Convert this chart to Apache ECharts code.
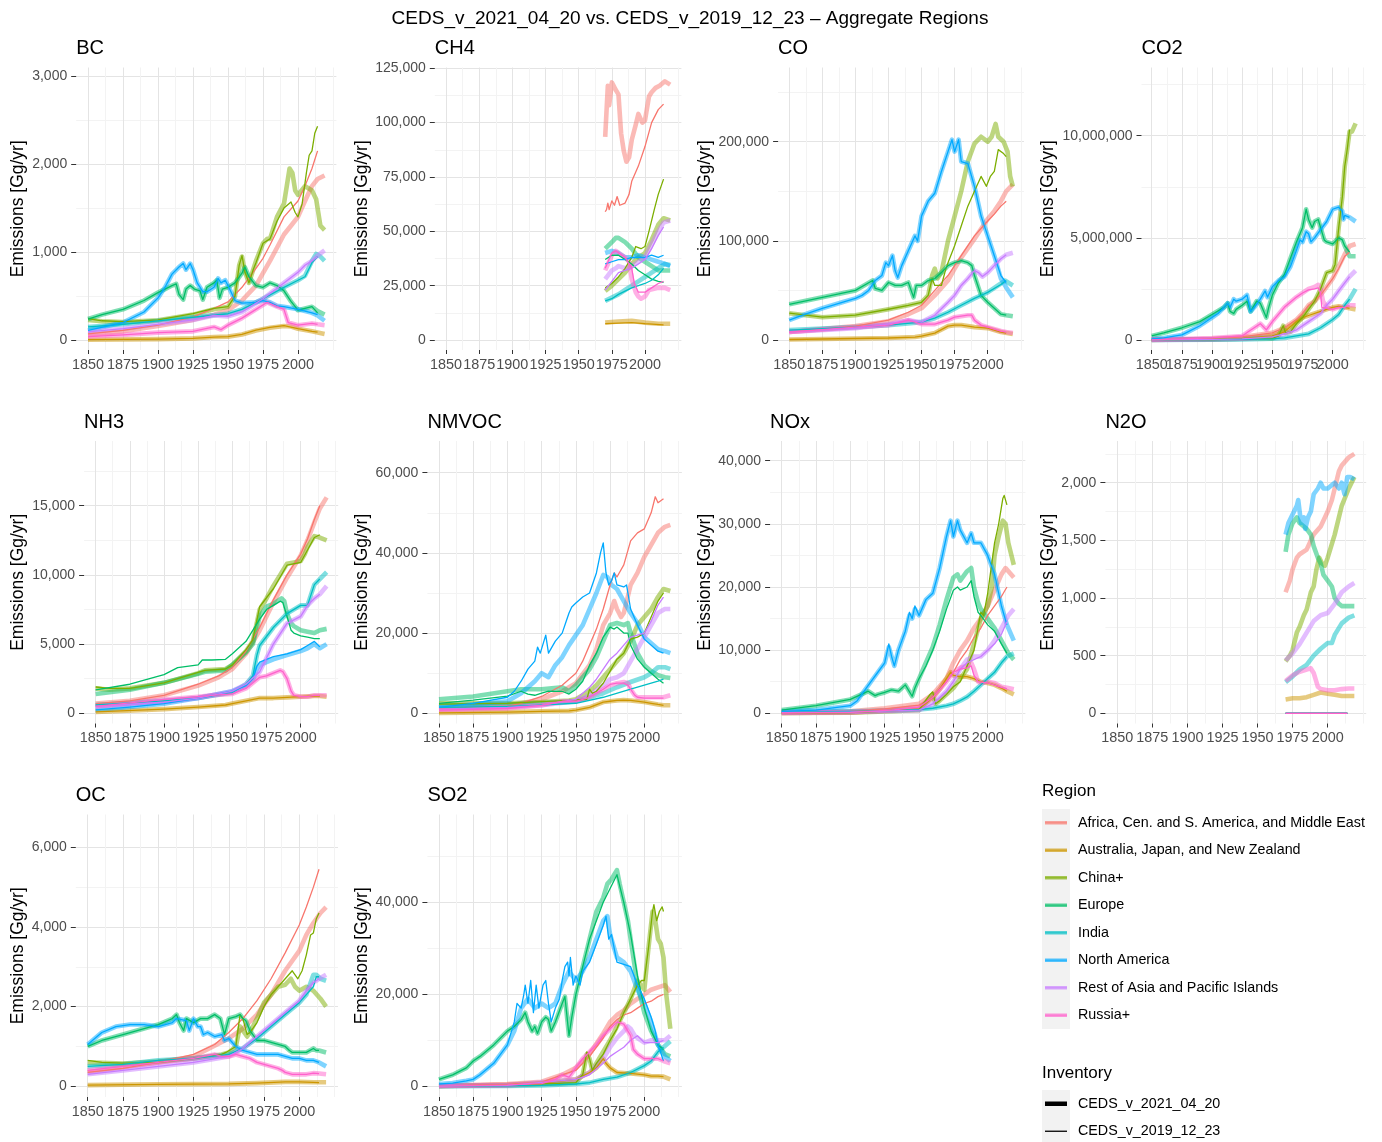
<!DOCTYPE html>
<html><head><meta charset="utf-8">
<script src="https://cdn.jsdelivr.net/npm/echarts@6/dist/echarts.min.js"></script>
<style>html,body{margin:0;padding:0;background:#fff}#c{width:1382px;height:1142px}</style>
</head><body><div id="c"></div>
<script>
const REGIONS = ['Africa, Cen. and S. America, and Middle East','Australia, Japan, and New Zealand','China+','Europe','India','North America','Rest of Asia and Pacific Islands','Russia+'];
const COLORS = ['#F8766D','#CD9600','#7CAE00','#00BE67','#00BFC4','#00A9FF','#C77CFF','#FF61CC'];
const INVENTORIES = ['CEDS_v_2021_04_20','CEDS_v_2019_12_23'];
const YEAR_TICKS = [1850,1875,1900,1925,1950,1975,2000];
const YEAR_MINOR = [1862.5,1887.5,1912.5,1937.5,1962.5,1987.5,2012.5,2025];
const XLIM = [1841.55, 2027.45];

const BC_TICKS=[0,1000,2000,3000], BC_MINOR=[500,1500,2500];
const CH4_TICKS=[0,25000,50000,75000,100000,125000], CH4_MINOR=[12500,37500,62500,87500,112500];
const CO_TICKS=[0,100000,200000], CO_MINOR=[50000,150000,250000];
const CO2_TICKS=[0,5000000,10000000], CO2_MINOR=[2500000,7500000,12500000];
const NH3_TICKS=[0,5000,10000,15000], NH3_MINOR=[2500,7500,12500,17500];
const NMVOC_TICKS=[0,20000,40000,60000], NMVOC_MINOR=[10000,30000,50000];
const NOX_TICKS=[0,10000,20000,30000,40000], NOX_MINOR=[5000,15000,25000,35000];
const N2O_TICKS=[0,500,1000,1500,2000], N2O_MINOR=[250,750,1250,1750,2250];
const OC_TICKS=[0,2000,4000,6000], OC_MINOR=[1000,3000,5000];
const SO2_TICKS=[0,20000,40000], SO2_MINOR=[10000,30000,50000];

// ---- BC ----
const BC_2021 = [
 [[1850,60],[1875,100],[1900,160],[1925,230],[1940,290],[1950,340],[1960,450],[1970,620],[1975,760],[1980,900],[1985,1050],[1990,1200],[1995,1300],[2000,1400],[2005,1580],[2010,1750],[2014,1830],[2019,1870]],
 [[1850,5],[1900,12],[1925,20],[1940,35],[1950,40],[1960,65],[1970,110],[1980,140],[1990,160],[1995,155],[2000,130],[2010,100],[2019,70]],
 [[1850,230],[1860,215],[1875,205],[1900,225],[1925,290],[1940,350],[1950,380],[1955,500],[1958,850],[1960,950],[1962,780],[1965,650],[1968,800],[1970,900],[1975,1100],[1978,1150],[1980,1150],[1985,1400],[1990,1550],[1992,1750],[1994,1950],[1996,1900],[1998,1700],[2000,1650],[2005,1750],[2010,1700],[2013,1600],[2016,1300],[2019,1250]],
 [[1850,240],[1860,290],[1875,350],[1890,450],[1900,540],[1905,580],[1910,620],[1913,640],[1915,520],[1918,460],[1920,580],[1923,620],[1926,580],[1930,560],[1932,460],[1935,600],[1940,650],[1942,680],[1944,480],[1946,580],[1950,600],[1955,650],[1960,760],[1962,830],[1965,720],[1970,620],[1975,600],[1980,650],[1985,620],[1990,560],[1995,440],[2000,340],[2005,360],[2010,380],[2014,330],[2019,290]],
 [[1850,150],[1875,180],[1900,220],[1925,260],[1950,300],[1960,350],[1975,470],[1990,600],[2000,680],[2005,730],[2010,900],[2013,980],[2016,950],[2019,900]],
 [[1850,110],[1875,200],[1890,320],[1900,480],[1905,600],[1910,750],[1915,830],[1918,870],[1920,800],[1923,870],[1925,800],[1928,650],[1932,550],[1935,550],[1940,600],[1943,700],[1945,650],[1948,680],[1950,620],[1955,450],[1960,420],[1970,430],[1975,450],[1980,430],[1985,390],[1990,380],[2000,350],[2010,310],[2014,280],[2019,220]],
 [[1850,95],[1875,130],[1900,180],[1925,230],[1940,280],[1950,270],[1960,320],[1975,470],[1990,650],[2000,770],[2005,850],[2010,900],[2014,960],[2019,1020]],
 [[1850,40],[1875,60],[1900,85],[1925,100],[1940,150],[1945,120],[1950,170],[1960,250],[1970,350],[1978,430],[1985,380],[1990,350],[1993,200],[2000,170],[2010,190],[2014,180],[2019,170]]
];
const BC_2019 = [
 [[1850,70],[1875,110],[1900,170],[1925,265],[1940,360],[1950,435],[1960,600],[1970,815],[1975,930],[1980,1080],[1990,1400],[2000,1580],[2005,1750],[2010,1950],[2014,2150]],
 [[1850,5],[1900,12],[1925,20],[1940,35],[1950,40],[1960,65],[1970,115],[1980,145],[1990,165],[2000,130],[2010,100],[2014,90]],
 [[1850,245],[1860,220],[1875,210],[1900,230],[1925,300],[1940,360],[1950,380],[1955,500],[1958,850],[1960,960],[1962,780],[1965,650],[1968,800],[1970,880],[1975,1100],[1980,1150],[1985,1350],[1990,1500],[1995,1570],[1998,1450],[2000,1400],[2003,1550],[2006,1900],[2008,2100],[2010,2150],[2012,2350],[2014,2430]],
 [[1850,240],[1860,290],[1875,350],[1890,450],[1900,540],[1905,580],[1910,620],[1913,640],[1915,520],[1918,460],[1920,580],[1923,620],[1926,580],[1930,560],[1932,460],[1935,600],[1940,650],[1942,680],[1944,480],[1946,580],[1950,600],[1955,650],[1960,760],[1962,830],[1965,720],[1970,620],[1975,600],[1980,650],[1985,620],[1990,560],[1995,440],[2000,340],[2005,360],[2010,380],[2014,310]],
 [[1850,150],[1875,180],[1900,220],[1925,260],[1950,300],[1960,350],[1975,470],[1990,600],[2000,680],[2005,720],[2010,880],[2014,950]],
 [[1850,110],[1875,200],[1890,320],[1900,480],[1905,600],[1910,750],[1915,830],[1918,870],[1920,800],[1923,870],[1925,800],[1928,650],[1932,550],[1935,550],[1940,600],[1943,700],[1945,650],[1948,680],[1950,620],[1955,450],[1960,420],[1970,430],[1975,450],[1980,430],[1985,390],[1990,380],[2000,350],[2010,310],[2014,290]],
 [[1850,95],[1875,130],[1900,180],[1925,230],[1940,280],[1950,270],[1960,320],[1975,470],[1990,650],[2000,770],[2005,850],[2010,900],[2014,950]],
 [[1850,40],[1875,60],[1900,85],[1925,100],[1940,150],[1945,120],[1950,170],[1960,250],[1970,350],[1978,430],[1985,380],[1990,350],[1993,200],[2000,170],[2010,190],[2014,180]]
];

// ---- CH4 ----
const CH4_2021 = [
 [[1970,93500],[1971,93500],[1972,117000],[1973,108000],[1975,118500],[1978,115000],[1980,113000],[1982,95000],[1984,87000],[1986,82000],[1988,84000],[1990,92000],[1993,99000],[1995,104000],[1998,100000],[2000,101000],[2003,112000],[2005,114000],[2008,116000],[2011,117000],[2015,119000],[2019,117500]],
 [[1970,8000],[1980,8500],[1990,8800],[2000,8000],[2010,7500],[2019,7500]],
 [[1970,22500],[1975,25000],[1980,28000],[1985,31000],[1990,35000],[1995,38000],[2000,40000],[2005,46000],[2010,53000],[2014,56000],[2019,55000]],
 [[1970,42000],[1975,45000],[1978,47000],[1980,47000],[1985,45000],[1990,42000],[1995,38000],[2000,36000],[2005,34000],[2010,32000],[2014,32000],[2019,32000]],
 [[1970,18000],[1975,19500],[1980,21000],[1985,23000],[1990,25000],[1995,27000],[2000,29000],[2005,31000],[2010,33000],[2015,35000],[2019,34500]],
 [[1970,40000],[1975,41000],[1980,40000],[1985,38000],[1990,38000],[1995,39000],[2000,38000],[2005,37000],[2010,36000],[2015,35000],[2019,34000]],
 [[1970,28000],[1975,32000],[1978,33000],[1980,34000],[1985,33000],[1990,34000],[1995,36000],[2000,38000],[2005,44000],[2010,50000],[2014,54000],[2019,55000]],
 [[1970,32000],[1975,39000],[1978,41000],[1985,38000],[1988,36000],[1990,28000],[1993,22000],[1995,20000],[1997,19000],[2000,20000],[2003,23000],[2010,24000],[2015,24000],[2019,23000]]
];
const CH4_2019 = [
 [[1970,59000],[1971,60000],[1972,63000],[1973,60000],[1975,64000],[1977,62000],[1979,66000],[1981,62000],[1985,63000],[1988,67000],[1990,73000],[1995,80000],[2000,89000],[2005,100000],[2010,106000],[2014,108500]],
 [[1970,7500],[1990,8000],[2000,7500],[2014,7000]],
 [[1970,24000],[1975,26000],[1980,29000],[1985,33000],[1990,38000],[1993,43000],[1997,42000],[2000,43000],[2003,50000],[2007,60000],[2010,67000],[2014,74000]],
 [[1970,37000],[1975,39000],[1980,39000],[1985,37000],[1990,35000],[1995,32000],[2000,30000],[2005,28000],[2010,27000],[2014,26500]],
 [[1970,18000],[1975,19000],[1980,21000],[1985,22500],[1990,24000],[1995,25000],[2000,26000],[2005,27500],[2010,30000],[2014,33000]],
 [[1970,35000],[1975,36000],[1980,37000],[1985,37000],[1990,38000],[1995,38000],[2000,38000],[2005,39000],[2010,38000],[2014,39000]],
 [[1970,23000],[1975,27000],[1980,31000],[1985,32000],[1990,33000],[1995,35000],[2000,37000],[2005,42000],[2010,48000],[2014,52000]],
 [[1970,33000],[1975,40000],[1978,41000],[1985,38000],[1990,33000],[1992,26000],[1995,22000],[2000,22000],[2005,24000],[2010,26000],[2014,27000]]
];

// ---- CO ----
const CO_2021 = [
 [[1850,8000],[1875,11000],[1900,14000],[1925,19000],[1940,26000],[1950,32000],[1960,45000],[1970,60000],[1975,72000],[1980,83000],[1990,102000],[2000,122000],[2005,130000],[2010,140000],[2014,150000],[2019,157000]],
 [[1850,500],[1900,1500],[1925,2000],[1945,3000],[1950,4000],[1960,7000],[1970,14000],[1975,15000],[1980,15000],[1990,13000],[2000,12000],[2010,8000],[2019,6000]],
 [[1850,27000],[1875,23000],[1900,25000],[1925,31000],[1940,35000],[1950,38000],[1955,45000],[1958,65000],[1960,72000],[1962,62000],[1965,68000],[1970,100000],[1975,125000],[1980,150000],[1985,180000],[1990,198000],[1995,205000],[2000,200000],[2003,205000],[2006,218000],[2008,205000],[2012,200000],[2015,190000],[2017,165000],[2019,155000]],
 [[1850,36000],[1875,43000],[1900,50000],[1913,60000],[1915,52000],[1920,50000],[1925,58000],[1930,55000],[1935,55000],[1940,58000],[1944,43000],[1946,55000],[1950,55000],[1955,60000],[1960,62000],[1965,68000],[1970,75000],[1975,78000],[1980,80000],[1985,78000],[1988,75000],[1990,65000],[1995,45000],[2000,38000],[2005,32000],[2010,26000],[2014,25000],[2019,24000]],
 [[1850,10000],[1900,13000],[1925,15000],[1950,18000],[1960,22000],[1970,28000],[1980,35000],[1990,42000],[2000,48000],[2010,57000],[2013,60000],[2019,55000]],
 [[1850,20000],[1860,25000],[1875,32000],[1890,38000],[1900,42000],[1905,45000],[1910,50000],[1915,60000],[1920,65000],[1923,78000],[1925,75000],[1928,85000],[1930,70000],[1932,63000],[1935,75000],[1940,90000],[1945,105000],[1947,100000],[1950,125000],[1955,140000],[1960,148000],[1965,170000],[1970,190000],[1973,202000],[1975,190000],[1978,202000],[1980,180000],[1985,178000],[1990,155000],[1995,125000],[2000,105000],[2005,85000],[2010,62000],[2014,53000],[2019,43000]],
 [[1850,8000],[1900,12000],[1925,16000],[1940,20000],[1950,18000],[1960,25000],[1970,38000],[1975,45000],[1980,55000],[1985,62000],[1990,70000],[1993,68000],[1996,64000],[2000,68000],[2005,75000],[2010,82000],[2014,86000],[2019,88000]],
 [[1850,8000],[1900,13000],[1925,15000],[1940,20000],[1950,16000],[1960,16000],[1970,20000],[1975,23000],[1980,24000],[1985,25000],[1988,25000],[1990,20000],[1995,15000],[2000,13000],[2010,9000],[2014,8000],[2019,7000]]
];
const CO_2019 = [
 [[1850,8000],[1875,11000],[1900,14000],[1925,20000],[1940,28000],[1950,35000],[1960,50000],[1970,65000],[1975,75000],[1980,85000],[1990,105000],[2000,120000],[2005,127000],[2010,135000],[2014,140000]],
 [[1850,500],[1900,1500],[1925,2000],[1945,3000],[1950,4000],[1960,7000],[1970,14000],[1975,15000],[1980,15000],[1990,13000],[2000,12000],[2010,8000],[2014,7000]],
 [[1850,27000],[1875,23000],[1900,25000],[1925,31000],[1940,35000],[1950,38000],[1955,45000],[1958,62000],[1960,55000],[1965,55000],[1968,70000],[1970,78000],[1975,95000],[1980,115000],[1985,135000],[1990,150000],[1995,165000],[1999,155000],[2002,165000],[2005,170000],[2008,192000],[2012,188000],[2014,185000]],
 [[1850,36000],[1875,43000],[1900,50000],[1913,60000],[1915,52000],[1920,50000],[1925,58000],[1930,55000],[1935,55000],[1940,58000],[1944,43000],[1946,55000],[1950,55000],[1955,60000],[1960,62000],[1965,68000],[1970,75000],[1975,78000],[1980,80000],[1985,78000],[1988,75000],[1990,65000],[1995,45000],[2000,38000],[2005,32000],[2010,26000],[2014,25000]],
 [[1850,10000],[1900,13000],[1925,15000],[1950,18000],[1960,22000],[1970,28000],[1980,35000],[1990,42000],[2000,48000],[2010,56000],[2014,60000]],
 [[1850,20000],[1860,25000],[1875,32000],[1890,38000],[1900,42000],[1905,45000],[1910,50000],[1915,60000],[1920,65000],[1923,78000],[1925,75000],[1928,85000],[1930,70000],[1932,63000],[1935,75000],[1940,90000],[1945,105000],[1947,100000],[1950,125000],[1955,140000],[1960,148000],[1965,170000],[1970,190000],[1973,202000],[1975,190000],[1978,202000],[1980,180000],[1985,178000],[1990,155000],[1995,125000],[2000,105000],[2005,85000],[2010,65000],[2014,58000]],
 [[1850,8000],[1900,12000],[1925,16000],[1940,20000],[1950,18000],[1960,25000],[1970,38000],[1975,45000],[1980,55000],[1985,62000],[1990,70000],[1993,68000],[1996,64000],[2000,68000],[2005,75000],[2010,82000],[2014,86000]],
 [[1850,8000],[1900,13000],[1925,15000],[1940,20000],[1950,16000],[1960,16000],[1970,20000],[1975,23000],[1980,24000],[1985,25000],[1988,25000],[1990,20000],[1995,15000],[2000,13000],[2010,9000],[2014,8000]]
];

// ---- CO2 ----
const CO2_2021 = [
 [[1850,10000],[1900,50000],[1925,150000],[1950,350000],[1960,600000],[1970,1000000],[1975,1300000],[1980,1700000],[1985,1900000],[1990,2200000],[1995,2600000],[2000,3000000],[2005,3600000],[2010,4200000],[2014,4600000],[2019,4700000]],
 [[1850,5000],[1900,50000],[1925,80000],[1950,200000],[1960,400000],[1970,900000],[1975,1100000],[1980,1200000],[1990,1400000],[2000,1600000],[2005,1650000],[2010,1600000],[2014,1550000],[2019,1500000]],
 [[1850,10000],[1900,20000],[1925,60000],[1940,100000],[1950,80000],[1955,200000],[1959,700000],[1961,350000],[1965,400000],[1970,800000],[1975,1100000],[1980,1500000],[1985,1900000],[1990,2500000],[1995,3300000],[2000,3400000],[2002,3700000],[2005,5500000],[2008,7000000],[2010,8500000],[2012,9300000],[2014,10200000],[2016,10200000],[2019,10600000]],
 [[1850,200000],[1860,350000],[1875,600000],[1890,900000],[1900,1250000],[1910,1600000],[1913,1800000],[1915,1400000],[1918,1300000],[1920,1500000],[1925,1700000],[1929,1900000],[1932,1400000],[1937,1900000],[1940,1800000],[1945,1100000],[1947,1600000],[1950,2200000],[1955,2800000],[1960,3200000],[1965,4000000],[1970,4800000],[1975,5500000],[1978,6400000],[1980,5900000],[1983,5500000],[1985,5800000],[1988,5900000],[1990,5500000],[1993,4900000],[1995,4800000],[2000,4700000],[2005,5000000],[2008,4900000],[2010,4600000],[2014,4100000],[2019,4100000]],
 [[1850,2000],[1900,20000],[1925,30000],[1950,60000],[1960,100000],[1970,200000],[1980,300000],[1990,600000],[2000,1000000],[2005,1250000],[2010,1700000],[2014,2000000],[2019,2500000]],
 [[1850,50000],[1860,100000],[1870,200000],[1875,250000],[1880,400000],[1890,700000],[1900,1100000],[1905,1300000],[1910,1600000],[1913,1800000],[1915,1600000],[1918,2000000],[1920,1900000],[1925,2000000],[1929,2200000],[1932,1400000],[1935,1600000],[1940,2000000],[1944,2400000],[1946,2100000],[1950,2600000],[1955,2900000],[1960,3100000],[1965,3600000],[1970,4400000],[1973,4900000],[1975,4800000],[1978,5300000],[1980,5200000],[1982,4800000],[1985,5000000],[1990,5400000],[1995,5800000],[2000,6400000],[2005,6500000],[2008,6300000],[2009,5900000],[2010,6100000],[2014,6000000],[2019,5800000]],
 [[1850,5000],[1900,30000],[1925,60000],[1950,150000],[1960,300000],[1970,500000],[1975,700000],[1980,900000],[1985,1100000],[1990,1300000],[1995,1700000],[2000,2000000],[2005,2400000],[2010,2800000],[2014,3100000],[2019,3400000]],
 [[1850,10000],[1900,100000],[1913,150000],[1925,200000],[1930,400000],[1940,800000],[1945,500000],[1950,900000],[1960,1600000],[1970,2100000],[1975,2300000],[1980,2500000],[1985,2600000],[1988,2700000],[1990,2500000],[1992,1900000],[1995,1600000],[2000,1500000],[2005,1600000],[2010,1600000],[2014,1700000],[2019,1700000]]
];
const CO2_2019 = [
 [[1850,10000],[1900,50000],[1925,150000],[1950,350000],[1960,600000],[1970,1000000],[1975,1300000],[1980,1700000],[1985,1900000],[1990,2200000],[1995,2600000],[2000,3000000],[2005,3500000],[2010,4100000],[2014,4300000]],
 [[1850,5000],[1900,50000],[1925,80000],[1950,200000],[1960,400000],[1970,900000],[1975,1100000],[1980,1200000],[1990,1400000],[2000,1600000],[2005,1650000],[2010,1600000],[2014,1550000]],
 [[1850,10000],[1900,20000],[1925,60000],[1940,100000],[1950,80000],[1955,200000],[1959,700000],[1961,350000],[1965,400000],[1970,800000],[1975,1100000],[1980,1500000],[1985,1900000],[1990,2500000],[1995,3300000],[2000,3400000],[2002,3700000],[2005,5500000],[2008,7000000],[2010,8500000],[2012,9300000],[2014,10300000]],
 [[1850,200000],[1860,350000],[1875,600000],[1890,900000],[1900,1250000],[1910,1600000],[1913,1800000],[1915,1400000],[1918,1300000],[1920,1500000],[1925,1700000],[1929,1900000],[1932,1400000],[1937,1900000],[1940,1800000],[1945,1100000],[1947,1600000],[1950,2200000],[1955,2800000],[1960,3200000],[1965,4000000],[1970,4800000],[1975,5500000],[1978,6400000],[1980,5900000],[1983,5500000],[1985,5800000],[1988,5900000],[1990,5500000],[1993,4900000],[1995,4800000],[2000,4700000],[2005,5000000],[2008,4900000],[2010,4600000],[2014,4300000]],
 [[1850,2000],[1900,20000],[1925,30000],[1950,60000],[1960,100000],[1970,200000],[1980,300000],[1990,600000],[2000,1000000],[2005,1250000],[2010,1700000],[2014,2000000]],
 [[1850,50000],[1860,100000],[1870,200000],[1875,250000],[1880,400000],[1890,700000],[1900,1100000],[1905,1300000],[1910,1600000],[1913,1800000],[1915,1600000],[1918,2000000],[1920,1900000],[1925,2000000],[1929,2200000],[1932,1400000],[1935,1600000],[1940,2000000],[1944,2400000],[1946,2100000],[1950,2600000],[1955,2900000],[1960,3100000],[1965,3600000],[1970,4400000],[1973,4900000],[1975,4800000],[1978,5300000],[1980,5200000],[1982,4800000],[1985,5000000],[1990,5400000],[1995,5800000],[2000,6400000],[2005,6500000],[2008,6300000],[2009,5900000],[2010,6100000],[2014,6000000]],
 [[1850,5000],[1900,30000],[1925,60000],[1950,150000],[1960,300000],[1970,500000],[1975,700000],[1980,900000],[1985,1100000],[1990,1300000],[1995,1700000],[2000,2000000],[2005,2400000],[2010,2800000],[2014,3100000]],
 [[1850,10000],[1900,100000],[1913,150000],[1925,200000],[1930,400000],[1940,800000],[1945,500000],[1950,900000],[1960,1600000],[1970,2100000],[1975,2300000],[1980,2450000],[1985,2500000],[1988,2550000],[1990,2300000],[1991,1600000],[1995,1550000],[2000,1500000],[2005,1600000],[2010,1600000],[2014,1700000]]
];

// ---- NH3 ----
const NH3_2021 = [
 [[1850,700],[1875,900],[1900,1300],[1925,2000],[1940,2600],[1950,3200],[1960,4300],[1970,6000],[1980,8000],[1990,9800],[2000,11400],[2005,12500],[2010,13800],[2014,14800],[2019,15600]],
 [[1850,100],[1900,300],[1925,450],[1945,600],[1950,700],[1960,900],[1970,1100],[1980,1100],[1990,1150],[2000,1200],[2010,1250],[2014,1250],[2019,1200]],
 [[1850,1800],[1860,1700],[1875,1800],[1900,2200],[1925,2900],[1930,3100],[1945,3200],[1950,3500],[1960,4500],[1965,5200],[1970,7500],[1975,8300],[1980,9200],[1985,10000],[1990,10800],[1995,10900],[2000,11000],[2003,11500],[2005,12000],[2010,12800],[2014,12700],[2019,12500]],
 [[1850,1400],[1875,1700],[1900,2200],[1925,2850],[1930,3000],[1945,3100],[1950,3500],[1960,4400],[1965,5000],[1970,7000],[1975,7700],[1980,7900],[1986,8300],[1988,8100],[1990,7200],[1993,6500],[1995,6300],[2000,6000],[2005,5900],[2010,5800],[2014,6000],[2019,6100]],
 [[1850,600],[1900,900],[1925,1100],[1950,1500],[1960,2100],[1965,2700],[1968,4200],[1970,4900],[1980,6200],[1990,7200],[2000,7800],[2005,7800],[2010,9300],[2014,9700],[2019,10200]],
 [[1850,250],[1875,450],[1900,700],[1925,1100],[1950,1600],[1960,2000],[1965,2400],[1968,3200],[1970,3500],[1975,3700],[1980,3900],[1990,4200],[2000,4500],[2005,4700],[2010,5000],[2014,4700],[2019,5000]],
 [[1850,500],[1900,800],[1925,1100],[1950,1600],[1960,2100],[1970,3000],[1975,4000],[1980,5000],[1990,6500],[2000,7000],[2005,7800],[2010,8300],[2014,8600],[2019,9200]],
 [[1850,500],[1900,1000],[1925,1200],[1935,1300],[1950,1400],[1960,1800],[1970,2600],[1975,2700],[1980,2900],[1985,3100],[1987,3000],[1990,2500],[1993,1600],[1995,1300],[2000,1200],[2005,1200],[2010,1300],[2014,1300],[2019,1300]]
];
const NH3_2019 = [
 [[1850,700],[1875,900],[1900,1300],[1925,2100],[1940,2700],[1950,3300],[1960,4500],[1970,6200],[1980,8200],[1990,10000],[2000,11500],[2005,12600],[2010,14000],[2014,15000]],
 [[1850,100],[1900,300],[1925,450],[1945,600],[1950,700],[1960,900],[1970,1100],[1980,1100],[1990,1150],[2000,1200],[2010,1250],[2014,1250]],
 [[1850,1900],[1860,1800],[1875,1800],[1900,2200],[1925,2950],[1930,3100],[1945,3200],[1950,3500],[1960,4600],[1965,5300],[1970,7700],[1980,9000],[1990,10700],[2000,10900],[2005,11800],[2010,12700],[2014,12900]],
 [[1850,1700],[1875,2100],[1900,2800],[1910,3300],[1925,3500],[1928,3850],[1935,3850],[1945,3900],[1950,4300],[1960,5200],[1970,6800],[1975,7500],[1980,7800],[1985,8100],[1987,8000],[1990,7000],[1993,6000],[1995,5800],[2000,5600],[2005,5500],[2010,5400],[2014,5400]],
 [[1850,600],[1900,900],[1925,1100],[1950,1500],[1960,2100],[1965,2700],[1968,4200],[1970,4900],[1980,6200],[1990,7200],[2000,7800],[2005,7800],[2010,9300],[2014,9700]],
 [[1850,250],[1875,450],[1900,700],[1925,1100],[1950,1600],[1960,2000],[1965,2500],[1968,3400],[1970,3700],[1975,3900],[1980,4100],[1990,4300],[2000,4600],[2005,4900],[2010,5200],[2012,5000],[2014,4800]],
 [[1850,500],[1900,800],[1925,1100],[1950,1600],[1960,2100],[1970,3000],[1975,4000],[1980,5000],[1990,6500],[2000,7000],[2005,7800],[2010,8300],[2014,8600]],
 [[1850,500],[1900,1000],[1925,1200],[1935,1300],[1950,1400],[1960,1800],[1970,2600],[1975,2700],[1980,2900],[1985,3100],[1987,3000],[1990,2500],[1993,1600],[1995,1300],[2000,1200],[2005,1200],[2010,1300],[2014,1300]]
];

// ---- NMVOC ----
const NMVOC_2021 = [
 [[1850,1300],[1900,1800],[1925,3500],[1940,5500],[1950,7500],[1960,12000],[1965,16000],[1970,22000],[1975,25000],[1978,28000],[1980,26000],[1983,24000],[1985,25000],[1990,32000],[1995,35000],[2000,39000],[2005,42000],[2010,45000],[2015,46500],[2019,47000]],
 [[1850,100],[1900,300],[1925,500],[1945,600],[1950,800],[1960,1500],[1970,2800],[1975,3000],[1980,3200],[1985,3300],[1990,3200],[2000,2800],[2005,2500],[2010,2200],[2014,2000],[2019,2000]],
 [[1850,2500],[1900,2500],[1925,2800],[1945,3200],[1950,3500],[1960,5500],[1965,7000],[1970,9000],[1975,11000],[1980,13000],[1985,15000],[1990,18000],[1995,22000],[2000,24000],[2005,26000],[2010,29000],[2014,31000],[2019,30500]],
 [[1850,3500],[1875,4200],[1900,5500],[1910,6000],[1925,6000],[1940,6500],[1945,5500],[1950,7000],[1960,11000],[1965,14000],[1970,18000],[1975,22000],[1980,22500],[1985,22000],[1988,22500],[1990,20000],[1995,15000],[2000,12000],[2005,10500],[2010,9500],[2015,9000],[2019,8800]],
 [[1850,2000],[1900,2200],[1925,2500],[1950,3000],[1960,4000],[1970,5000],[1980,6500],[1990,7800],[2000,9000],[2005,10000],[2010,11500],[2015,11500],[2019,11000]],
 [[1850,1500],[1875,2200],[1900,3000],[1910,5000],[1920,8000],[1925,10000],[1930,9000],[1935,12000],[1940,14000],[1945,17000],[1950,19500],[1955,22000],[1960,26000],[1965,30000],[1970,34500],[1973,34000],[1976,32000],[1980,31000],[1985,28000],[1990,25000],[1995,22500],[2000,19000],[2005,17500],[2010,16000],[2015,15500],[2019,15000]],
 [[1850,1000],[1900,1500],[1925,2000],[1950,3000],[1960,4500],[1970,7000],[1975,8500],[1980,9000],[1985,10000],[1990,13000],[1995,16000],[2000,19000],[2005,22000],[2010,25000],[2015,26000],[2019,26000]],
 [[1850,800],[1900,1200],[1925,2000],[1940,3000],[1950,3000],[1960,4000],[1970,6000],[1975,7000],[1980,7500],[1985,7800],[1988,7500],[1990,6000],[1993,4500],[1995,4000],[2000,4000],[2010,4000],[2014,4000],[2019,4500]]
];
const NMVOC_2019 = [
 [[1850,1300],[1900,1800],[1910,2500],[1925,4200],[1940,7000],[1950,10000],[1955,13000],[1960,17000],[1965,21000],[1970,26000],[1975,32000],[1978,35000],[1980,34000],[1985,37000],[1990,43000],[1995,45000],[2000,46000],[2005,50000],[2008,54000],[2010,52500],[2014,53500]],
 [[1850,100],[1900,300],[1925,500],[1945,600],[1950,800],[1960,1500],[1970,2800],[1975,3000],[1980,3200],[1985,3300],[1990,3200],[2000,2800],[2005,2500],[2010,2200],[2014,2000]],
 [[1850,2300],[1900,2500],[1925,2900],[1945,3200],[1958,3500],[1960,6000],[1962,5000],[1965,5500],[1970,7500],[1975,10500],[1980,13500],[1985,15000],[1990,18500],[1995,19000],[2000,20000],[2005,24000],[2010,28000],[2014,30000]],
 [[1850,2500],[1875,3300],[1900,4300],[1910,5500],[1915,4800],[1920,4500],[1925,5000],[1930,5500],[1940,5500],[1945,4800],[1950,6000],[1955,8000],[1960,12000],[1965,15000],[1970,19000],[1975,21500],[1978,21000],[1980,21500],[1985,20000],[1988,20000],[1990,17000],[1995,13500],[2000,11500],[2005,10000],[2010,8500],[2014,7500]],
 [[1850,1500],[1900,1700],[1920,2000],[1950,2500],[1970,4000],[1990,6000],[2000,7000],[2010,8000],[2014,8500]],
 [[1850,1500],[1875,2500],[1900,4000],[1905,5500],[1910,8000],[1915,11000],[1920,13000],[1922,16500],[1924,15000],[1928,19500],[1930,15000],[1935,18000],[1940,20000],[1943,23000],[1945,25000],[1947,26500],[1950,27500],[1955,29000],[1960,30000],[1965,35000],[1968,40000],[1970,42500],[1972,35000],[1974,32000],[1976,33000],[1978,35000],[1980,32000],[1985,31500],[1987,32000],[1990,26000],[1995,22000],[2000,18500],[2005,17000],[2010,15500],[2014,15000]],
 [[1850,1000],[1900,1500],[1925,2000],[1950,3500],[1960,6500],[1965,8500],[1970,11000],[1975,13500],[1980,15000],[1985,17000],[1990,19000],[1995,19500],[2000,20000],[2005,23000],[2010,27000],[2014,29000]],
 [[1850,800],[1900,1200],[1925,2000],[1940,3000],[1950,3000],[1960,4000],[1970,6000],[1975,7200],[1980,7500],[1985,7500],[1988,7000],[1990,6000],[1993,4500],[1995,4000],[2000,3800],[2010,3800],[2014,3800]]
];

// ---- NOx ----
const NOX_2021 = [
 [[1850,100],[1900,300],[1925,800],[1950,1500],[1960,3000],[1970,5500],[1975,8000],[1980,10000],[1985,11500],[1990,13500],[1995,15000],[2000,17000],[2005,19500],[2010,22000],[2013,23000],[2019,21500]],
 [[1850,50],[1900,150],[1950,700],[1960,2500],[1965,3800],[1970,5500],[1973,6500],[1975,6000],[1980,5800],[1985,5800],[1990,5500],[1995,5000],[2000,4800],[2005,4500],[2010,4000],[2014,3500],[2019,3000]],
 [[1850,50],[1900,100],[1950,500],[1958,2500],[1960,3000],[1962,1500],[1965,2000],[1970,3000],[1975,4000],[1980,5500],[1985,7000],[1990,11000],[1995,15000],[2000,17000],[2003,20000],[2005,25000],[2008,28000],[2011,30500],[2013,30000],[2015,27000],[2019,23500]],
 [[1850,500],[1875,1200],[1900,2200],[1910,3200],[1913,3500],[1918,2800],[1920,3000],[1925,3300],[1930,3700],[1935,3500],[1940,4500],[1945,2700],[1947,4000],[1950,5500],[1955,8000],[1960,10500],[1965,14000],[1970,18000],[1975,21500],[1978,22000],[1980,21000],[1985,22500],[1988,23000],[1990,20000],[1993,17500],[1995,16500],[2000,15000],[2005,13500],[2010,11500],[2015,9500],[2019,8500]],
 [[1850,200],[1900,300],[1925,400],[1950,600],[1960,800],[1970,1200],[1975,1500],[1980,2000],[1985,2600],[1990,3500],[1995,4500],[2000,5500],[2005,6500],[2010,8000],[2014,9000],[2019,9500]],
 [[1850,300],[1875,500],[1900,1200],[1905,2000],[1910,3500],[1915,5000],[1920,6500],[1925,8000],[1928,10500],[1930,9000],[1932,7500],[1935,10000],[1940,13000],[1943,15500],[1945,15000],[1947,16500],[1950,15500],[1955,18000],[1960,19000],[1965,23000],[1970,28000],[1973,30500],[1975,28000],[1978,30500],[1980,29000],[1985,27000],[1988,28500],[1990,27000],[1995,27000],[2000,25000],[2005,22000],[2010,17000],[2014,14000],[2019,11500]],
 [[1850,100],[1900,200],[1950,500],[1960,1500],[1970,3500],[1975,5000],[1980,7000],[1985,8500],[1990,9000],[1995,9000],[2000,10000],[2005,11500],[2010,13500],[2015,15500],[2019,16500]],
 [[1850,50],[1900,150],[1930,500],[1950,1000],[1960,2500],[1970,5000],[1975,6500],[1980,7200],[1985,7500],[1988,8000],[1990,7000],[1993,5000],[1995,4800],[2000,5000],[2005,4800],[2010,4200],[2015,4000],[2019,3800]]
];
const NOX_2019 = [
 [[1850,100],[1900,300],[1925,700],[1950,1300],[1960,2500],[1970,5000],[1975,6500],[1980,8500],[1985,10000],[1990,12000],[1995,13500],[2000,15500],[2005,17000],[2010,18500],[2014,20000]],
 [[1850,50],[1900,150],[1950,700],[1960,2500],[1965,3800],[1970,5500],[1973,6500],[1975,6000],[1980,5800],[1985,5800],[1990,5500],[1995,5000],[2000,4800],[2005,4500],[2010,4000],[2014,3500]],
 [[1850,50],[1900,100],[1950,600],[1958,3000],[1960,3400],[1962,1500],[1965,2000],[1970,3000],[1975,4200],[1980,5000],[1985,7500],[1990,10000],[1995,16000],[1997,15500],[2000,19000],[2005,27000],[2008,30000],[2011,34000],[2012,34500],[2014,33000]],
 [[1850,500],[1875,1200],[1900,2200],[1910,3200],[1913,3500],[1918,2800],[1920,3000],[1925,3300],[1930,3700],[1935,3500],[1940,4500],[1945,2700],[1947,4000],[1950,5500],[1955,7500],[1960,10000],[1965,13000],[1970,16500],[1975,19500],[1978,20000],[1980,19500],[1985,20000],[1988,21000],[1990,18500],[1993,16000],[1995,15500],[2000,14000],[2005,13000],[2010,11000],[2014,9500]],
 [[1850,200],[1900,300],[1925,400],[1950,600],[1960,800],[1970,1200],[1975,1500],[1980,2000],[1985,2600],[1990,3500],[1995,4500],[2000,5500],[2005,6500],[2010,8000],[2014,9000]],
 [[1850,300],[1875,500],[1900,1200],[1905,2000],[1910,3500],[1915,5000],[1920,6500],[1925,8000],[1928,11000],[1930,9000],[1932,7500],[1935,10000],[1940,13000],[1943,16000],[1945,15000],[1947,17000],[1950,15500],[1955,18000],[1960,19000],[1965,23000],[1970,28000],[1973,30500],[1975,28000],[1978,30500],[1980,29000],[1985,27000],[1988,28500],[1990,27000],[1995,27000],[2000,25000],[2005,22000],[2010,17000],[2014,14000]],
 [[1850,100],[1900,200],[1950,500],[1960,1500],[1970,3500],[1975,5000],[1980,7000],[1985,8000],[1990,8500],[1995,9000],[2000,10000],[2005,11000],[2010,12500],[2014,14500]],
 [[1850,50],[1900,150],[1930,500],[1950,1000],[1960,2500],[1970,5000],[1975,6500],[1980,7000],[1985,7200],[1988,7500],[1990,6000],[1993,5000],[2000,4800],[2010,4100],[2014,3900]]
];

// ---- N2O ----
const N2O_2021 = [
 [[1970,1050],[1973,1150],[1975,1250],[1978,1350],[1980,1380],[1985,1420],[1988,1500],[1990,1550],[1995,1620],[2000,1750],[2003,1850],[2005,1950],[2008,2100],[2010,2150],[2015,2220],[2019,2250]],
 [[1970,120],[1975,130],[1980,130],[1985,140],[1990,160],[1995,180],[2000,170],[2005,160],[2010,150],[2015,150],[2019,150]],
 [[1970,450],[1973,500],[1975,550],[1978,700],[1980,750],[1983,850],[1985,900],[1988,1050],[1990,1100],[1992,1250],[1994,1350],[1996,1300],[1998,1280],[2000,1350],[2005,1550],[2010,1800],[2015,1950],[2019,2050]],
 [[1970,1400],[1972,1550],[1975,1650],[1978,1700],[1980,1650],[1985,1600],[1988,1550],[1990,1450],[1993,1350],[1995,1300],[1997,1200],[2000,1150],[2003,1100],[2005,1000],[2008,950],[2010,930],[2015,930],[2019,930]],
 [[1970,270],[1975,320],[1980,380],[1985,420],[1990,500],[1995,560],[2000,610],[2003,610],[2005,680],[2010,780],[2015,830],[2019,850]],
 [[1970,1550],[1972,1650],[1974,1700],[1976,1750],[1978,1800],[1979,1850],[1980,1750],[1981,1650],[1983,1700],[1984,1600],[1986,1700],[1988,1750],[1990,1900],[1993,1950],[1995,2000],[1997,1950],[2000,1950],[2003,1980],[2005,2000],[2008,1950],[2010,2000],[2012,1900],[2014,2050],[2016,2050],[2019,2030]],
 [[1970,460],[1975,520],[1980,600],[1985,700],[1990,800],[1995,850],[2000,870],[2005,950],[2010,1050],[2015,1100],[2019,1130]],
 [[1970,280],[1975,330],[1980,360],[1985,380],[1988,390],[1990,350],[1993,230],[1995,210],[2000,200],[2005,200],[2010,210],[2015,215],[2019,215]]
];
const N2O_2019 = [
 [[1970,0],[2014,0]],[[1970,0],[2014,0]],[[1970,0],[2014,0]],[[1970,0],[2014,0]],
 [[1970,0],[2014,0]],[[1970,0],[2014,0]],[[1970,0],[2014,0]],[[1970,0],[2014,0]]
];

// ---- OC ----
const OC_2021 = [
 [[1850,350],[1900,600],[1925,750],[1950,1200],[1960,1450],[1970,1800],[1980,2300],[1990,2900],[2000,3400],[2005,3800],[2010,4100],[2015,4350],[2019,4500]],
 [[1850,30],[1900,50],[1950,60],[1970,80],[1990,110],[2000,110],[2010,100],[2019,100]],
 [[1850,600],[1875,570],[1900,620],[1925,700],[1945,800],[1950,850],[1955,1000],[1958,1500],[1960,1400],[1963,1250],[1965,1350],[1970,1700],[1975,2100],[1980,2300],[1985,2500],[1990,2550],[1994,2700],[1997,2500],[2000,2400],[2005,2500],[2010,2400],[2015,2200],[2019,2000]],
 [[1850,1000],[1860,1150],[1875,1300],[1890,1450],[1900,1550],[1910,1700],[1913,1800],[1915,1600],[1918,1400],[1920,1700],[1925,1600],[1930,1700],[1935,1700],[1940,1800],[1944,1700],[1947,1300],[1950,1700],[1955,1750],[1958,1800],[1960,1700],[1962,1650],[1965,1400],[1970,1150],[1975,1150],[1980,1100],[1985,1050],[1990,1000],[1993,900],[1995,850],[2000,850],[2005,850],[2010,950],[2012,900],[2014,900],[2019,850]],
 [[1850,500],[1875,550],[1900,650],[1925,700],[1950,800],[1960,950],[1970,1200],[1980,1500],[1990,1800],[2000,2100],[2005,2300],[2010,2800],[2012,2800],[2015,2700],[2019,2650]],
 [[1850,1050],[1855,1200],[1860,1350],[1870,1500],[1880,1550],[1890,1550],[1900,1500],[1910,1600],[1913,1700],[1920,1650],[1922,1400],[1925,1700],[1928,1500],[1930,1500],[1932,1300],[1935,1350],[1940,1250],[1945,1300],[1947,1150],[1950,1200],[1955,1000],[1960,900],[1965,850],[1970,800],[1980,800],[1985,800],[1990,750],[1995,700],[2000,700],[2005,650],[2010,650],[2014,600],[2019,500]],
 [[1850,300],[1875,400],[1900,500],[1925,600],[1950,750],[1960,950],[1970,1250],[1980,1550],[1990,1850],[2000,2150],[2005,2400],[2010,2600],[2014,2700],[2019,2800]],
 [[1850,400],[1875,500],[1900,600],[1925,700],[1940,800],[1945,750],[1950,750],[1955,800],[1960,750],[1965,700],[1970,600],[1980,500],[1985,450],[1988,400],[1990,350],[1995,300],[2000,300],[2005,300],[2010,330],[2014,320],[2019,300]]
];
const OC_2019 = [
 [[1850,350],[1875,450],[1900,600],[1925,800],[1940,1050],[1950,1350],[1960,1700],[1970,2150],[1980,2700],[1990,3350],[2000,4050],[2005,4500],[2010,5000],[2014,5450]],
 [[1850,30],[1900,50],[1950,60],[1970,80],[1990,110],[2000,110],[2010,100],[2014,90]],
 [[1850,650],[1860,600],[1875,580],[1900,600],[1925,700],[1945,800],[1948,850],[1955,1000],[1958,1800],[1960,1700],[1963,1300],[1965,1350],[1970,1600],[1975,2000],[1980,2300],[1985,2500],[1990,2700],[1995,2900],[1997,2800],[1999,2700],[2002,2900],[2005,3300],[2008,3800],[2010,3850],[2012,4200],[2014,4350]],
 [[1850,1000],[1860,1150],[1875,1300],[1890,1450],[1900,1550],[1910,1700],[1913,1800],[1915,1600],[1918,1400],[1920,1700],[1925,1600],[1930,1700],[1935,1700],[1940,1800],[1944,1700],[1947,1300],[1950,1700],[1955,1750],[1958,1800],[1960,1700],[1962,1650],[1965,1400],[1970,1150],[1975,1150],[1980,1100],[1985,1050],[1990,1000],[1993,900],[1995,850],[2000,850],[2005,850],[2010,950],[2012,900],[2014,900]],
 [[1850,500],[1875,550],[1900,650],[1925,700],[1950,800],[1960,950],[1970,1200],[1980,1500],[1990,1800],[2000,2100],[2005,2300],[2010,2500],[2012,2750],[2014,2750]],
 [[1850,1050],[1855,1200],[1860,1350],[1870,1500],[1880,1550],[1890,1550],[1900,1500],[1910,1600],[1913,1700],[1920,1650],[1922,1400],[1925,1700],[1928,1500],[1930,1500],[1932,1300],[1935,1350],[1940,1250],[1945,1300],[1947,1150],[1950,1200],[1955,1000],[1960,900],[1965,850],[1970,800],[1980,800],[1985,800],[1990,750],[1995,700],[2000,700],[2005,650],[2010,650],[2014,600]],
 [[1850,300],[1875,400],[1900,500],[1925,600],[1950,750],[1960,950],[1970,1250],[1980,1550],[1990,1850],[2000,2150],[2005,2400],[2010,2600],[2014,2700]],
 [[1850,400],[1875,500],[1900,600],[1925,700],[1940,800],[1945,750],[1950,750],[1955,800],[1960,750],[1965,700],[1970,600],[1980,500],[1985,450],[1988,400],[1990,350],[1995,300],[2000,300],[2005,300],[2010,330],[2014,320]]
];

// ---- SO2 ----
const SO2_2021 = [
 [[1850,100],[1900,500],[1925,1000],[1940,2500],[1950,4000],[1960,7000],[1970,11500],[1975,14000],[1980,15500],[1985,16500],[1990,18000],[1995,19000],[2000,20000],[2005,21000],[2010,21500],[2015,22000],[2019,20500]],
 [[1850,50],[1900,300],[1925,700],[1950,1500],[1960,3000],[1965,4000],[1970,6000],[1972,5000],[1975,4000],[1980,3000],[1990,2800],[2000,2500],[2005,2200],[2010,2200],[2014,2100],[2019,1500]],
 [[1850,50],[1900,200],[1925,500],[1950,800],[1955,2500],[1958,7000],[1960,6000],[1962,3500],[1965,5000],[1970,7500],[1975,10000],[1980,13000],[1985,16000],[1990,19000],[1995,23000],[2000,21000],[2003,30000],[2006,38000],[2008,36000],[2010,32000],[2012,31000],[2014,28000],[2016,20000],[2019,12500]],
 [[1850,1500],[1860,2500],[1870,4000],[1875,5500],[1880,6500],[1890,9000],[1900,12000],[1905,13000],[1910,14500],[1913,16000],[1915,14000],[1918,12000],[1920,13000],[1922,11500],[1925,14000],[1928,15000],[1930,14500],[1932,12000],[1935,14000],[1940,18000],[1942,19500],[1945,11000],[1947,15000],[1950,20000],[1955,26000],[1960,32000],[1965,38000],[1970,41000],[1973,44000],[1976,45000],[1980,47000],[1982,44000],[1985,40000],[1988,36000],[1990,32000],[1993,26000],[1995,22000],[2000,16000],[2005,12000],[2010,9000],[2015,7000],[2019,6500]],
 [[1850,20],[1900,100],[1925,200],[1950,500],[1960,800],[1970,1500],[1980,2000],[1990,3000],[2000,4500],[2005,5500],[2010,7500],[2014,8500],[2019,9800]],
 [[1850,500],[1860,700],[1870,1200],[1875,1500],[1880,2500],[1890,5000],[1900,9000],[1905,12000],[1910,17000],[1915,19000],[1920,17000],[1925,18000],[1930,17000],[1935,18000],[1940,22000],[1945,25000],[1950,23000],[1955,25000],[1960,28000],[1965,32000],[1970,36000],[1973,37000],[1975,33000],[1980,28000],[1985,27000],[1990,25000],[1995,21000],[2000,18000],[2005,14000],[2010,9000],[2015,6500],[2019,5500]],
 [[1850,50],[1900,200],[1950,1500],[1960,3000],[1970,6000],[1975,8500],[1980,10500],[1985,12000],[1988,13000],[1990,12500],[1993,11000],[1995,10500],[2000,9500],[2005,10000],[2010,10000],[2015,10000],[2019,11000]],
 [[1850,50],[1900,300],[1925,600],[1935,1500],[1940,2500],[1945,2000],[1950,4000],[1955,6000],[1960,7500],[1965,9000],[1970,11000],[1975,12500],[1980,14000],[1985,13500],[1988,12000],[1990,11000],[1992,8000],[1995,7000],[2000,6000],[2005,6000],[2010,6000],[2014,5500],[2019,5000]]
];
const SO2_2019 = [
 [[1850,100],[1900,400],[1925,900],[1950,3500],[1960,6500],[1970,10500],[1975,13000],[1980,14500],[1985,15500],[1990,16000],[1995,17000],[2000,18000],[2005,18500],[2010,19500],[2014,20000]],
 [[1850,50],[1900,300],[1925,700],[1950,1500],[1960,3000],[1965,4000],[1970,6000],[1972,5000],[1975,4000],[1980,3000],[1990,2800],[2000,2500],[2005,2200],[2010,2200],[2014,2100]],
 [[1850,50],[1900,200],[1925,500],[1950,800],[1955,2500],[1958,7500],[1960,6000],[1962,3500],[1965,5000],[1970,7000],[1975,10000],[1980,12500],[1985,16000],[1990,19000],[1995,22000],[1998,23000],[2000,23000],[2003,30000],[2006,38000],[2007,39500],[2009,36000],[2011,38000],[2013,39000],[2014,38000]],
 [[1850,1500],[1860,2500],[1870,4000],[1875,5500],[1880,6500],[1890,9000],[1900,12000],[1905,13000],[1910,14500],[1913,16000],[1915,14000],[1918,12000],[1920,13000],[1922,11500],[1925,14000],[1928,15000],[1930,14500],[1932,12000],[1935,14000],[1940,18000],[1942,19500],[1945,11000],[1947,15000],[1950,20000],[1955,26000],[1960,32000],[1965,36000],[1970,40000],[1975,43000],[1980,46000],[1985,40000],[1990,33000],[1995,24000],[2000,17000],[2005,12000],[2010,9000],[2014,8000]],
 [[1850,20],[1900,100],[1925,200],[1950,500],[1960,800],[1970,1500],[1980,2000],[1990,3000],[2000,4500],[2005,5500],[2010,7500],[2014,8500]],
 [[1850,500],[1860,700],[1870,1200],[1875,1500],[1880,2500],[1890,5000],[1900,9000],[1905,14000],[1907,18000],[1910,17000],[1912,20000],[1913,22000],[1915,18000],[1917,23000],[1919,16000],[1921,22000],[1923,17000],[1926,22000],[1928,23000],[1930,18000],[1932,14000],[1935,17000],[1938,19000],[1940,23000],[1942,26000],[1944,27000],[1945,24000],[1946,28000],[1948,22000],[1950,24000],[1953,22000],[1955,25000],[1960,27000],[1965,31000],[1970,35000],[1972,37000],[1974,32000],[1976,33000],[1978,30000],[1980,27000],[1985,26500],[1990,26000],[1995,22000],[2000,19000],[2005,15000],[2008,12000],[2010,9000],[2014,5500]],
 [[1850,50],[1900,200],[1950,1500],[1960,2500],[1970,5000],[1975,6500],[1980,7500],[1985,8500],[1990,10000],[1995,11000],[2000,9500],[2005,9500],[2010,9500],[2014,10000]],
 [[1850,50],[1900,300],[1925,600],[1935,1500],[1940,2500],[1945,2000],[1950,4000],[1955,6000],[1960,7500],[1965,9000],[1970,11000],[1975,12500],[1980,14000],[1985,13500],[1988,12000],[1990,11000],[1992,8000],[1995,7000],[2000,6000],[2005,6000],[2010,6000],[2014,5500]]
];

// ---- panel layout ----
const PANELS = [
 {title:'BC',    d21:BC_2021,    d19:BC_2019,    ticks:BC_TICKS,    minor:BC_MINOR,    box:[76.2,67.5,336.4,350],   ylim:[-112,3097],      tx:18},
 {title:'CH4',   d21:CH4_2021,   d19:CH4_2019,   ticks:CH4_TICKS,   minor:CH4_MINOR,   box:[434.8,67.5,681.4,350],  ylim:[-4600,125368],   tx:362},
 {title:'CO',    d21:CO_2021,    d19:CO_2019,    ticks:CO_TICKS,    minor:CO_MINOR,    box:[778.1,67.5,1024,350],   ylim:[-10086,274836],  tx:705},
 {title:'CO2',   d21:CO2_2021,   d19:CO2_2019,   ticks:CO2_TICKS,   minor:CO2_MINOR,   box:[1141.5,67.5,1365.8,350],ylim:[-489000,13338000],tx:1048},
 {title:'NH3',   d21:NH3_2021,   d19:NH3_2019,   ticks:NH3_TICKS,   minor:NH3_MINOR,   box:[84.1,441,338.2,723.5],  ylim:[-737,19675],     tx:18},
 {title:'NMVOC', d21:NMVOC_2021, d19:NMVOC_2019, ticks:NMVOC_TICKS, minor:NMVOC_MINOR, box:[427.4,441,681.9,723.5], ylim:[-2544,67905],    tx:362},
 {title:'NOx',   d21:NOX_2021,   d19:NOX_2019,   ticks:NOX_TICKS,   minor:NOX_MINOR,   box:[770.1,441,1025.4,723.5],ylim:[-1615,43120],    tx:705},
 {title:'N2O',   d21:N2O_2021,   d19:N2O_2019,   ticks:N2O_TICKS,   minor:N2O_MINOR,   box:[1105.4,441,1366.2,723.5],ylim:[-88.5,2362],    tx:1048},
 {title:'OC',    d21:OC_2021,    d19:OC_2019,    ticks:OC_TICKS,    minor:OC_MINOR,    box:[75.8,814.5,338,1097],   ylim:[-269,6824],      tx:18},
 {title:'SO2',   d21:SO2_2021,   d19:SO2_2019,   ticks:SO2_TICKS,   minor:SO2_MINOR,   box:[427.4,814.5,681.9,1097],ylim:[-2326,59087],    tx:362}
];

const FONT = '"Liberation Sans", Arial, Helvetica, sans-serif';
function fmt(v){ return String(Math.round(v)).replace(/\B(?=(\d{3})+(?!\d))/g, ','); }

const grids=[], xAxes=[], yAxes=[], series=[], graphics=[];
PANELS.forEach((p,i)=>{
  const [l,t,r,b] = p.box;
  grids.push({left:l, top:t, width:r-l, height:b-t, containLabel:false, outerBoundsMode:'none', show:false});
  xAxes.push({type:'value', gridIndex:i, min:XLIM[0], max:XLIM[1], position:'bottom',
    axisLine:{show:false,onZero:false}, axisTick:{show:false, customValues:YEAR_MINOR},
    axisLabel:{show:false, customValues:YEAR_MINOR}, splitLine:{show:true, lineStyle:{color:'#F3F3F3', width:1}}});
  xAxes.push({type:'value', gridIndex:i, min:XLIM[0], max:XLIM[1], position:'bottom',
    axisLine:{show:false,onZero:false},
    axisTick:{show:true, length:4, customValues:YEAR_TICKS, lineStyle:{color:'#333333', width:1}},
    axisLabel:{show:false, customValues:YEAR_TICKS},
    splitLine:{show:true, lineStyle:{color:'#E4E4E4', width:1}}});
  yAxes.push({type:'value', gridIndex:i, min:p.ylim[0], max:p.ylim[1], position:'left',
    axisLine:{show:false,onZero:false}, axisTick:{show:false, customValues:p.minor},
    axisLabel:{show:false, customValues:p.minor}, splitLine:{show:true, lineStyle:{color:'#F3F3F3', width:1}}});
  yAxes.push({type:'value', gridIndex:i, min:p.ylim[0], max:p.ylim[1], position:'left',
    axisLine:{show:false,onZero:false},
    axisTick:{show:true, length:5, customValues:p.ticks, lineStyle:{color:'#333333', width:1}},
    axisLabel:{customValues:p.ticks, margin:9, color:'#4D4D4D', fontSize:14, fontFamily:FONT, formatter:fmt,
      hideOverlap:false, showMinLabel:true, showMaxLabel:true},
    splitLine:{show:true, lineStyle:{color:'#E4E4E4', width:1}}});
  const xi = 2*i+1, yi = 2*i+1;
  p.d21.forEach((d,k)=>{
    series.push({type:'line', name:REGIONS[k]+' '+INVENTORIES[0], xAxisIndex:xi, yAxisIndex:yi, data:d,
      symbol:'none', showSymbol:false, silent:true, z:2, lineStyle:{color:COLORS[k], width:4.6, opacity:0.5, cap:'butt', join:'round'}});
  });
  p.d19.forEach((d,k)=>{
    series.push({type:'line', name:REGIONS[k]+' '+INVENTORIES[1], xAxisIndex:xi, yAxisIndex:yi, data:d,
      symbol:'none', showSymbol:false, silent:true, z:3, lineStyle:{color:COLORS[k], width:1.3, opacity:1, join:'round'}});
  });
  graphics.push({type:'text', x:l, y:t-19, silent:true,
    style:{text:p.title, fill:'#000', fontSize:20, fontFamily:FONT, align:'left', verticalAlign:'middle', textAlign:'left', textVerticalAlign:'middle'}});
  graphics.push({type:'text', x:p.tx, y:(t+b)/2, rotation:Math.PI/2, silent:true,
    style:{text:'Emissions [Gg/yr]', fill:'#000', fontSize:17.5, fontFamily:FONT, align:'center', verticalAlign:'middle', textAlign:'center', textVerticalAlign:'middle'}});
});

graphics.push({type:'text', x:690, y:18.5, silent:true,
  style:{text:'CEDS_v_2021_04_20 vs. CEDS_v_2019_12_23 \u2013 Aggregate Regions', fill:'#000', fontSize:19, fontFamily:FONT, align:'center', verticalAlign:'middle', textAlign:'center', textVerticalAlign:'middle'}});

const LX = 1042, KEY_H = 27.5, REG_TOP = 809;
graphics.push({type:'text', x:LX, y:791, silent:true, style:{text:'Region', fill:'#000', fontSize:17, fontFamily:FONT, align:'left', verticalAlign:'middle', textAlign:'left', textVerticalAlign:'middle'}});
graphics.push({type:'rect', silent:true, shape:{x:LX, y:REG_TOP, width:28, height:KEY_H*REGIONS.length}, style:{fill:'#F2F2F2'}});
REGIONS.forEach((name,k)=>{
  const y = REG_TOP + KEY_H*(k+0.5);
  graphics.push({type:'line', silent:true, shape:{x1:LX+3, y1:y, x2:LX+25, y2:y}, style:{stroke:COLORS[k], lineWidth:3.5, opacity:0.65}});
  graphics.push({type:'line', silent:true, shape:{x1:LX+3, y1:y, x2:LX+25, y2:y}, style:{stroke:COLORS[k], lineWidth:1, opacity:0.6}});
  graphics.push({type:'text', x:LX+36, y:y, silent:true, style:{text:name, fill:'#000', fontSize:14.3, fontFamily:FONT, align:'left', verticalAlign:'middle', textAlign:'left', textVerticalAlign:'middle'}});
});
const INV_TOP = 1090;
graphics.push({type:'text', x:LX, y:1073, silent:true, style:{text:'Inventory', fill:'#000', fontSize:17, fontFamily:FONT, align:'left', verticalAlign:'middle', textAlign:'left', textVerticalAlign:'middle'}});
graphics.push({type:'rect', silent:true, shape:{x:LX, y:INV_TOP, width:28, height:KEY_H*2}, style:{fill:'#F2F2F2'}});
INVENTORIES.forEach((name,k)=>{
  const y = INV_TOP + KEY_H*(k+0.5);
  graphics.push({type:'line', silent:true, shape:{x1:LX+3, y1:y, x2:LX+25, y2:y}, style:{stroke:'#000', lineWidth:k===0?4.5:1.3}});
  graphics.push({type:'text', x:LX+36, y:y, silent:true, style:{text:name, fill:'#000', fontSize:14.3, fontFamily:FONT, align:'left', verticalAlign:'middle', textAlign:'left', textVerticalAlign:'middle'}});
});

const chart = echarts.init(document.getElementById('c'), null, {renderer:'canvas', width:1382, height:1142});
chart.setOption({
  backgroundColor:'#ffffff',
  animation:false,
  grid:grids, xAxis:xAxes, yAxis:yAxes, series:series,
  graphic:{elements:graphics}
});

// x-axis year labels: positioned through the library's own x scales (labels may overlap, as in the source)
const xLabels = [];
PANELS.forEach((p,i)=>{
  const bottom = p.box[3];
  YEAR_TICKS.forEach(yr=>{
    const px = chart.convertToPixel({xAxisIndex:2*i+1}, yr);
    xLabels.push({type:'text', x:px, y:bottom+8, silent:true,
      style:{text:String(yr), fill:'#4D4D4D', fontSize:14.4, fontFamily:FONT, align:'center', verticalAlign:'top', textAlign:'center', textVerticalAlign:'top'}});
  });
});
chart.setOption({graphic:{elements:graphics.concat(xLabels)}});
</script>
</body></html>
